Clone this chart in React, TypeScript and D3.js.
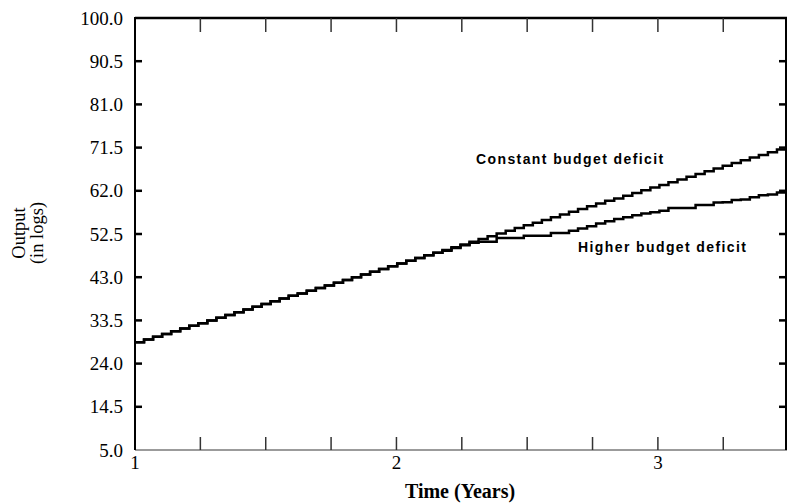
import React from "react";
import * as d3 from "d3";

// ---- data ----
const startYear = 1;
const stepYears = 2.49 / 72;
const constantDeficit = [
  28.7, 29.3, 29.9, 30.5, 31.1, 31.7, 32.3, 32.9, 33.5, 34.1,
  34.7, 35.3, 35.9, 36.5, 37.1, 37.7, 38.3, 38.9, 39.4, 40.0,
  40.6, 41.2, 41.8, 42.4, 43.0, 43.6, 44.2, 44.8, 45.4, 46.0,
  46.6, 47.2, 47.8, 48.4, 49.0, 49.6, 50.2, 50.8, 51.4, 52.0,
  52.6, 53.2, 53.8, 54.4, 55.0, 55.6, 56.2, 56.8, 57.4, 58.0,
  58.6, 59.2, 59.8, 60.3, 60.9, 61.5, 62.1, 62.7, 63.3, 63.9,
  64.5, 65.1, 65.7, 66.3, 66.9, 67.5, 68.1, 68.7, 69.3, 69.9,
  70.5, 71.1, 71.7,
];
const higherDeficit = [
  28.7, 29.3, 29.9, 30.5, 31.1, 31.7, 32.3, 32.9, 33.5, 34.1,
  34.7, 35.3, 35.9, 36.5, 37.1, 37.7, 38.3, 38.9, 39.4, 40.0,
  40.6, 41.2, 41.8, 42.4, 43.0, 43.6, 44.2, 44.8, 45.4, 46.0,
  46.6, 47.2, 47.8, 48.4, 48.8, 49.4, 50.0, 50.6, 50.8, 50.8,
  51.6, 51.6, 51.6, 52.1, 52.1, 52.1, 52.7, 52.7, 53.2, 53.7,
  54.2, 54.8, 55.3, 55.8, 56.2, 56.6, 57.0, 57.3, 57.6, 58.2,
  58.2, 58.2, 58.9, 58.9, 59.4, 59.5, 60.0, 60.1, 60.6, 61.0,
  61.2, 61.6, 62.2,
];
const yTickLabels = ["5.0", "14.5", "24.0", "33.5", "43.0", "52.5", "62.0", "71.5", "81.0", "90.5", "100.0"];
const xMajorTicks = [1, 2, 3];
const xMinorTicks = [1.25, 1.5, 1.75, 2, 2.25, 2.5, 2.75, 3, 3.25];
const seriesLabels = ["Constant budget deficit", "Higher budget deficit"];

export default function App() {
  const W = 787, H = 503;
  const left = 135, right = 786, top = 18, bottom = 450;
  const x = d3.scaleLinear().domain([1, 3.49]).range([left, right]);
  const y = d3.scaleLinear().domain([5, 100]).range([bottom, top]);
  const line = d3
    .line<number>()
    .x((_, i) => x(startYear + i * stepYears))
    .y((d) => y(d))
    .curve(d3.curveStepAfter);
  const yTicks = yTickLabels.map((s) => +s);
  const serif = "'Liberation Serif', 'DejaVu Serif', serif";
  const sans = "'Liberation Sans', Arial, sans-serif";
  return (
    <svg width={W} height={H} style={{ position: "absolute", left: 0, top: 0, background: "#fff" }}>
      <rect x={0} y={0} width={W} height={H} fill="#fff" />
      {/* series */}
      <path d={line(higherDeficit) || ""} fill="none" stroke="#000" strokeWidth={2.5} />
      <path d={line(constantDeficit) || ""} fill="none" stroke="#000" strokeWidth={2.5} />
      {/* axes frame */}
      <line x1={left} x2={right + 1} y1={bottom} y2={bottom} stroke="#7a7a7a" strokeWidth={1.5} />
      <line x1={left} x2={right + 1} y1={top} y2={top} stroke="#000" strokeWidth={2.5} />
      <line x1={left} x2={left} y1={top - 1} y2={bottom} stroke="#000" strokeWidth={2} />
      <line x1={right} x2={right} y1={top - 1} y2={bottom} stroke="#000" strokeWidth={2} />
      {/* x ticks */}
      {xMinorTicks.map((t) => (
        <g key={"xt" + t}>
          <line x1={x(t)} x2={x(t)} y1={top} y2={top + 14} stroke="#333" strokeWidth={1.5} />
          <line x1={x(t)} x2={x(t)} y1={bottom} y2={bottom - 13} stroke="#333" strokeWidth={1.5} />
        </g>
      ))}
      {xMajorTicks.map((t) => (
        <text key={"xl" + t} x={x(t)} y={469} textAnchor="middle" fontFamily={serif} fontSize={19} fill="#000">
          {t}
        </text>
      ))}
      {/* y ticks */}
      {yTicks.map((v, i) => (
        <g key={"yt" + i}>
          {v > 5 && v < 100 && (
            <>
              <line x1={left} x2={left + 7} y1={y(v)} y2={y(v)} stroke="#000" strokeWidth={2.5} />
              <line x1={right - 7} x2={right} y1={y(v)} y2={y(v)} stroke="#000" strokeWidth={2.5} />
            </>
          )}
          <text x={123} y={y(v)} dy="0.35em" textAnchor="end" fontFamily={serif} fontSize={19} fill="#000">
            {yTickLabels[i]}
          </text>
        </g>
      ))}
      {/* axis titles */}
      <text x={460} y={498} textAnchor="middle" fontFamily={serif} fontSize={20} fontWeight="bold" fill="#000">
        Time (Years)
      </text>
      <g transform="translate(25,233) rotate(-90)">
        <text x={0} y={0} textAnchor="middle" fontFamily={serif} fontSize={18.5} fill="#000">Output</text>
        <text x={0} y={18} textAnchor="middle" fontFamily={serif} fontSize={18.5} fill="#000">(in logs)</text>
      </g>
      {/* series labels */}
      <text x={476} y={164} fontFamily={sans} fontSize={14} fontWeight="bold" letterSpacing={1.4} fill="#000">
        {seriesLabels[0]}
      </text>
      <text x={578} y={252} fontFamily={sans} fontSize={14} fontWeight="bold" letterSpacing={1.4} fill="#000">
        {seriesLabels[1]}
      </text>
    </svg>
  );
}
